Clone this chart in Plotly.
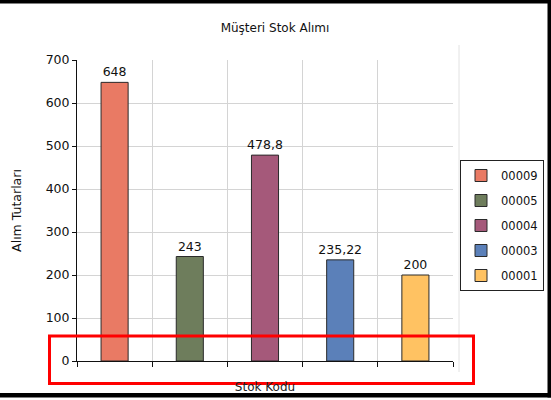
import plotly.graph_objects as go

# Data
codes = ["00009", "00005", "00004", "00003", "00001"]
values = [648, 243, 478.8, 235.22, 200]
colors = ["#E97A64", "#6E7D5C", "#A5597A", "#5B80B9", "#FFC262"]
labels = [str(v).replace(".", ",") for v in values]
y_ticks = [0, 100, 200, 300, 400, 500, 600, 700]

W, H = 551, 400
L, R, T, B = 77, 453, 60, 361  # plot area pixel bounds

def px(x):
    return (x - L) / (R - L)

def py(y):
    return (B - y) / (B - T)

FONT = "DejaVu Sans"

fig = go.Figure()
for i, (c, v, col, lab) in enumerate(zip(codes, values, colors, labels)):
    fig.add_trace(go.Bar(
        x=[i], y=[v], name=c, width=0.36,
        marker=dict(color=col, line=dict(color="#2a2a2a", width=1)),
        text=[lab], textposition="outside", cliponaxis=False,
        constraintext="none",
        textfont=dict(family=FONT, size=12.5, color="#111"),
        legendgroup=c,
        hoverinfo="skip",
    ))

fig.update_layout(
    width=W, height=H,
    margin=dict(l=L, r=W - R, t=T, b=H - B, pad=0, autoexpand=False),
    paper_bgcolor="white", plot_bgcolor="white",
    barmode="overlay",
    showlegend=True,
    title=dict(text="Müşteri Stok Alımı", x=px(275), xref="paper", xanchor="center",
               y=1 - 28 / H, yanchor="middle",
               font=dict(family=FONT, size=12, color="#111")),
    legend=dict(x=px(460), y=py(160), xanchor="left", yanchor="top",
                bordercolor="#222", borderwidth=1, bgcolor="white",
                font=dict(family=FONT, size=11.5, color="#111"),
                tracegroupgap=6, itemwidth=30),
    font=dict(family=FONT, color="#111"),
)

fig.update_xaxes(
    range=[-0.5, 4.5], tickmode="array", tickvals=[-0.5, 0.5, 1.5, 2.5, 3.5, 4.5],
    showticklabels=False, ticks="outside", ticklen=5, tickcolor="#111",
    showgrid=True, gridcolor="#d4d4d4", gridwidth=1,
    showline=True, linecolor="#111", linewidth=1, zeroline=False,
    title=dict(text="Stok Kodu", font=dict(family=FONT, size=12, color="#222"), standoff=16),
)
fig.update_yaxes(
    range=[0, 700], tickmode="array", tickvals=y_ticks,
    ticks="outside", ticklen=4, tickcolor="#111",
    tickfont=dict(family=FONT, size=12.5, color="#111"),
    showgrid=True, gridcolor="#d4d4d4", gridwidth=1,
    showline=True, linecolor="#111", linewidth=1, zeroline=False,
    title=dict(text="Alım Tutarları", font=dict(family=FONT, size=12.5, color="#111"), standoff=21),
)

# faint plot-area border line on the right
fig.add_shape(type="line", xref="paper", yref="paper",
              x0=px(459), x1=px(459), y0=py(45), y1=py(372),
              line=dict(color="#e2e2e2", width=1), layer="below")

# red highlight rectangle
fig.add_shape(type="rect", xref="paper", yref="paper",
              x0=px(49.5), x1=px(473.5), y0=py(336), y1=py(383.5),
              line=dict(color="#FF0000", width=3), layer="above")

# black frame edges (top, bottom, right)
fig.add_shape(type="rect", xref="paper", yref="paper",
              x0=px(0), x1=px(551), y0=py(0), y1=py(3.5),
              line=dict(width=0), fillcolor="black", layer="above")
fig.add_shape(type="rect", xref="paper", yref="paper",
              x0=px(0), x1=px(551), y0=py(393), y1=py(397.5),
              line=dict(width=0), fillcolor="black", layer="above")
fig.add_shape(type="rect", xref="paper", yref="paper",
              x0=px(547.5), x1=px(551), y0=py(0), y1=py(397.5),
              line=dict(width=0), fillcolor="black", layer="above")

fig.write_html("out.html", config={"displayModeBar": False},
               post_script="document.body.style.margin='0';document.body.style.overflow='hidden';")
